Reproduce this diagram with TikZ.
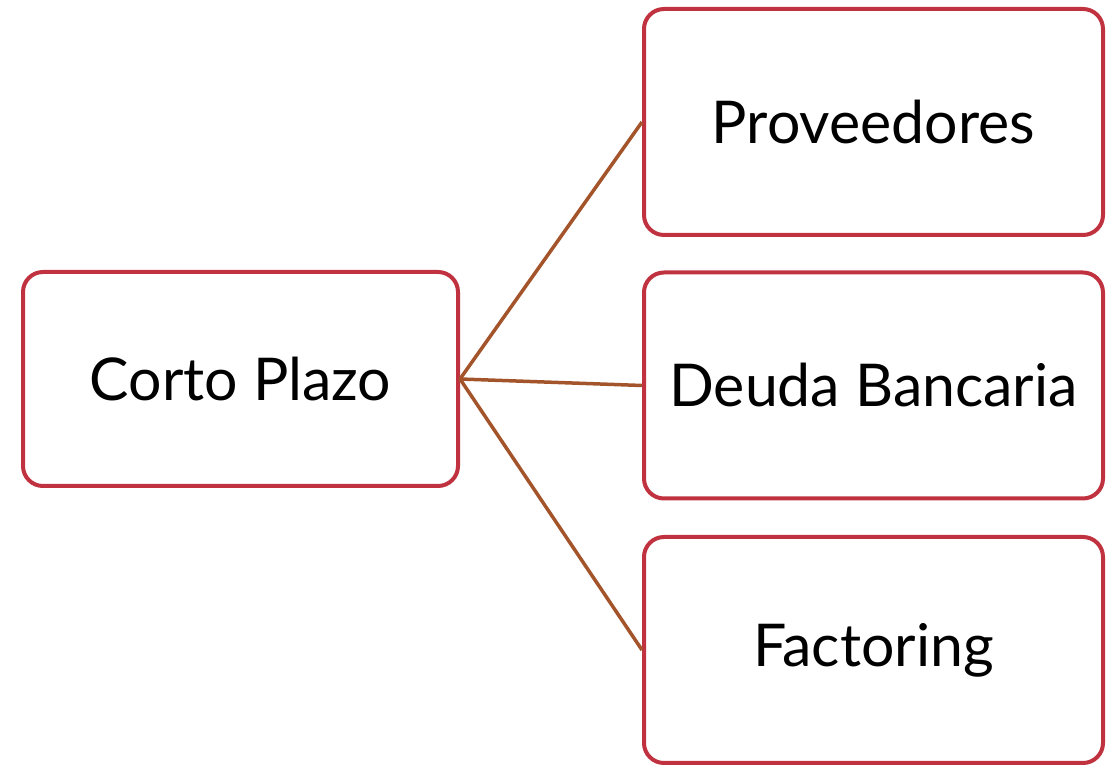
\documentclass[tikz,border=0pt]{standalone}
\usepackage{fontspec}
\setmainfont{Lato}
\tikzset{
  box/.style={
    rectangle,
    rounded corners=20pt,
    line width=4pt,
    draw=boxred,
    fill=white,
    align=center,
    font=\fontsize{59}{64}\selectfont
  },
  box-left/.style={box, minimum width=435pt, minimum height=214pt},
  box-right/.style={box, minimum width=459pt, minimum height=226pt},
  link/.style={line width=3.5pt, draw=linkbrown}
}
\definecolor{boxred}{RGB}{192,50,64}
\definecolor{linkbrown}{RGB}{163,84,42}
\begin{document}
\begin{tikzpicture}[x=1pt,y=1pt]
  \useasboundingbox (0,0) rectangle (1114,765);
  % Root
  \node[box-left] (corto) at (240.5,386) {Corto Plazo};
  % Children
  \node[box-right] (prov) at (873.5,643) {Proveedores};
  \node[box-right] (deuda) at (873.5,379.5) {Deuda Bancaria};
  \node[box-right] (fact) at (873.5,115) {Factoring};
  % Links
  \foreach \n in {prov,deuda,fact}{
    \draw[link] (corto.east) -- (\n.west);
  }
\end{tikzpicture}
\end{document}
